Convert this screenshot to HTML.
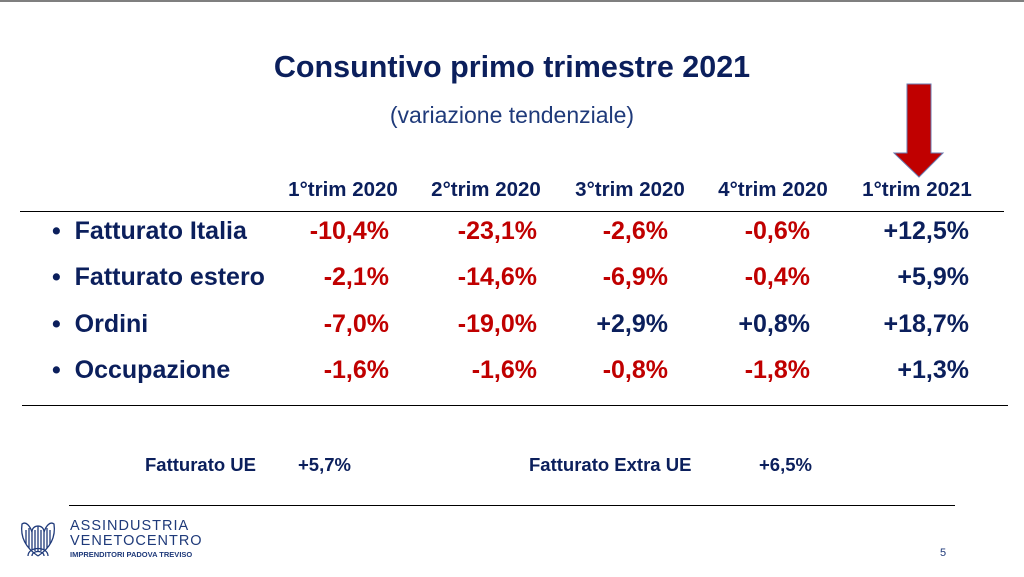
<!DOCTYPE html>
<html><head><meta charset="utf-8"><style>
body{margin:0;width:1024px;height:577px;background:#fff;position:relative;overflow:hidden;font-family:"Liberation Sans",Arial,sans-serif;}
.a{position:absolute;white-space:nowrap;}
.b{font-weight:bold;}
.n{color:#0b1f5c;}
.r{color:#c00000;}
.h{font-size:20.5px;top:178px;width:160px;text-align:center;}
.v{font-size:25px;font-weight:bold;text-align:right;width:150px;}
.l{font-size:25px;font-weight:bold;color:#0b1f5c;left:52px;}
</style></head><body>
<div class="a" style="left:0;top:0;width:1024px;height:2px;background:#7f7f7f"></div>
<div class="a b n" style="left:0;width:1024px;text-align:center;top:50px;font-size:30.5px">Consuntivo primo trimestre 2021</div>
<div class="a n" style="left:0;width:1024px;text-align:center;top:102px;font-size:23px;color:#1f3a7a">(variazione tendenziale)</div>
<svg class="a" style="left:0;top:0" width="1024" height="577">
<polygon points="907,84 931,84 931,153 943,153 919,177 894,153 907,153" fill="#c00000" stroke="#6a7ab0" stroke-width="1"/>
<line x1="20" y1="211.5" x2="1004" y2="211.5" stroke="#000" stroke-width="1"/>
<line x1="22" y1="405.5" x2="1008" y2="405.5" stroke="#000" stroke-width="1"/>
<line x1="69" y1="505.5" x2="955" y2="505.5" stroke="#000" stroke-width="1"/>
</svg>
<div class="a b n h" style="left:263px">1°trim 2020</div>
<div class="a b n h" style="left:406px">2°trim 2020</div>
<div class="a b n h" style="left:550px">3°trim 2020</div>
<div class="a b n h" style="left:693px">4°trim 2020</div>
<div class="a b n h" style="left:837px">1°trim 2021</div>

<div class="a l" style="top:217px">•&nbsp; Fatturato Italia</div>
<div class="a l" style="top:263px">•&nbsp; Fatturato estero</div>
<div class="a l" style="top:310px">•&nbsp; Ordini</div>
<div class="a l" style="top:356px">•&nbsp; Occupazione</div>

<div class="a v r" style="left:239px;top:217px">-10,4%</div>
<div class="a v r" style="left:387px;top:217px">-23,1%</div>
<div class="a v r" style="left:518px;top:217px">-2,6%</div>
<div class="a v r" style="left:660px;top:217px">-0,6%</div>
<div class="a v n" style="left:819px;top:217px">+12,5%</div>

<div class="a v r" style="left:239px;top:263px">-2,1%</div>
<div class="a v r" style="left:387px;top:263px">-14,6%</div>
<div class="a v r" style="left:518px;top:263px">-6,9%</div>
<div class="a v r" style="left:660px;top:263px">-0,4%</div>
<div class="a v n" style="left:819px;top:263px">+5,9%</div>

<div class="a v r" style="left:239px;top:310px">-7,0%</div>
<div class="a v r" style="left:387px;top:310px">-19,0%</div>
<div class="a v n" style="left:518px;top:310px">+2,9%</div>
<div class="a v n" style="left:660px;top:310px">+0,8%</div>
<div class="a v n" style="left:819px;top:310px">+18,7%</div>

<div class="a v r" style="left:239px;top:356px">-1,6%</div>
<div class="a v r" style="left:387px;top:356px">-1,6%</div>
<div class="a v r" style="left:518px;top:356px">-0,8%</div>
<div class="a v r" style="left:660px;top:356px">-1,8%</div>
<div class="a v n" style="left:819px;top:356px">+1,3%</div>

<div class="a b n" style="left:145px;top:454px;font-size:18.5px">Fatturato UE</div>
<div class="a b n" style="left:298px;top:454px;font-size:18.5px">+5,7%</div>
<div class="a b n" style="left:529px;top:454px;font-size:18.5px">Fatturato Extra UE</div>
<div class="a b n" style="left:759px;top:454px;font-size:18.5px">+6,5%</div>

<svg class="a" style="left:18px;top:518px" width="40" height="40" viewBox="0 0 40 40">
<g fill="none" stroke="#1f3a7a" stroke-width="1.3">
<path d="M20 38 C8 30 2 20 4 6 C8 3 12 8 14 14 M20 38 C32 30 38 20 36 6 C32 3 28 8 26 14"/>
<path d="M14 14 C14 6 26 6 26 14 L26 32 M14 14 L14 32"/>
<path d="M8 12 L8 26 M11 10 L11 30 M29 10 L29 30 M32 12 L32 26 M17 12 L17 33 M20 8 L20 33 M23 12 L23 33"/>
<path d="M10 38 C10 28 30 28 30 38 M14 38 C14 32 26 32 26 38"/>
</g></svg>
<div class="a" style="left:70px;top:519px;font-size:14.5px;color:#1f3a7a;letter-spacing:1px;line-height:15px">ASSINDUSTRIA<br>VENETOCENTRO</div>
<div class="a b" style="left:70px;top:550px;font-size:7.5px;color:#1f3a7a">IMPRENDITORI PADOVA TREVISO</div>
<div class="a" style="left:940px;top:547px;font-size:11px;color:#1f3a7a">5</div>
</body></html>
